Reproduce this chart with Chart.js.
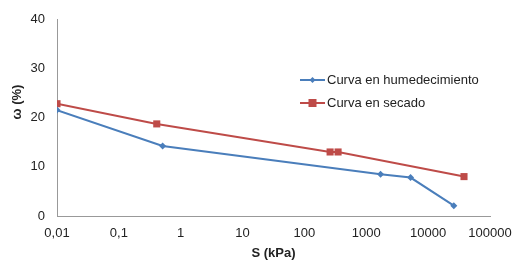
<!DOCTYPE html>
<html lang="en">
<head>
    <meta charset="UTF-8">
    <title>Curva de retención</title>
    <script src="https://cdn.jsdelivr.net/npm/chart.js"></script>
    <style>
        body { margin: 0; background: #fff; }
        #wrap { width: 528px; height: 276px; }
    </style>
</head>
<body>
    <div id="wrap"><canvas id="chart" width="528" height="276"></canvas></div>

    <script>
        // suction (kPa) and water content (%)
        const wetS = [0.01, 0.51, 1700, 5200, 26000]
        const wetW = [21.5, 14.2, 8.5, 7.8, 2.1]
        const dryS = [0.01, 0.41, 260, 350, 38000]
        const dryW = [22.8, 18.7, 13.0, 13.0, 8.0]
        const xTicks = [0.01, 0.1, 1, 10, 100, 1000, 10000, 100000]
        const yTicks = [0, 10, 20, 30, 40]
        const seriesNames = ["Curva en humedecimiento", "Curva en secado"]

        const blue = "#4A7EBB"
        const red = "#BE4B48"
        const font = "Liberation Sans, Arial, sans-serif"

        function pts(xs, ys) {
            return xs.map(function (x, i) { return { x: x, y: ys[i] } })
        }

        // legend sits inside the plot, so it is drawn by hand
        const legendInside = {
            id: "legendInside",
            afterDraw: function (chart) {
                const ctx = chart.ctx
                const rows = [
                    { name: seriesNames[0], color: blue, style: "diamond", y: 80 },
                    { name: seriesNames[1], color: red, style: "square", y: 103 }
                ]
                ctx.save()
                rows.forEach(function (r) {
                    ctx.strokeStyle = r.color
                    ctx.lineWidth = 2
                    ctx.beginPath()
                    ctx.moveTo(300, r.y)
                    ctx.lineTo(325, r.y)
                    ctx.stroke()
                    ctx.fillStyle = r.color
                    if (r.style === "diamond") {
                        ctx.beginPath()
                        ctx.moveTo(312.5, r.y - 3)
                        ctx.lineTo(315.5, r.y)
                        ctx.lineTo(312.5, r.y + 3)
                        ctx.lineTo(309.5, r.y)
                        ctx.closePath()
                        ctx.fill()
                    } else {
                        ctx.fillRect(308.5, r.y - 4, 8, 8)
                    }
                    ctx.fillStyle = "#222"
                    ctx.font = "13px " + font
                    ctx.textBaseline = "middle"
                    ctx.fillText(r.name, 327, r.y)
                })
                // y axis title, rotated
                ctx.translate(17, 102)
                ctx.rotate(-Math.PI / 2)
                ctx.font = "bold 13px " + font
                ctx.textAlign = "center"
                ctx.textBaseline = "middle"
                ctx.fillStyle = "#222"
                ctx.fillText("ω (%)", 0, 0)
                ctx.restore()
            }
        }

        const config = {
            type: "line",
            data: {
                datasets: [{
                    label: seriesNames[0],
                    data: pts(wetS, wetW),
                    borderColor: blue,
                    backgroundColor: blue,
                    borderWidth: 2,
                    pointStyle: "rectRot",
                    pointRadius: 3.5,
                    pointBorderWidth: 0
                }, {
                    label: seriesNames[1],
                    data: pts(dryS, dryW),
                    borderColor: red,
                    backgroundColor: red,
                    borderWidth: 2,
                    pointStyle: "rect",
                    pointRadius: 5,
                    pointBorderWidth: 0
                }]
            },
            options: {
                responsive: false,
                animation: false,
                layout: { padding: { top: 19, right: 38, left: 0, bottom: 0 } },
                plugins: {
                    legend: { display: false },
                    tooltip: { enabled: false }
                },
                scales: {
                    x: {
                        type: "logarithmic",
                        min: xTicks[0],
                        max: xTicks[xTicks.length - 1],
                        grid: { display: false },
                        border: { display: true, color: "#999", width: 1 },
                        afterBuildTicks: function (axis) {
                            axis.ticks = xTicks.map(function (v) { return { value: v } })
                        },
                        afterFit: function (axis) { axis.height = 60 },
                        ticks: {
                            autoSkip: false,
                            maxRotation: 0,
                            padding: 2,
                            color: "#222",
                            font: { family: font, size: 13 },
                            callback: function (v) { return String(v).replace(".", ",") }
                        },
                        title: {
                            display: true,
                            text: "S (kPa)",
                            color: "#222",
                            font: { family: font, size: 13, weight: "bold" },
                            padding: { top: 2, bottom: 15 }
                        }
                    },
                    y: {
                        min: yTicks[0],
                        max: yTicks[yTicks.length - 1],
                        grid: { display: false },
                        border: { display: true, color: "#999", width: 1 },
                        afterBuildTicks: function (axis) {
                            axis.ticks = yTicks.map(function (v) { return { value: v } })
                        },
                        afterFit: function (axis) { axis.width = 57 },
                        ticks: {
                            padding: 4,
                            color: "#222",
                            font: { family: font, size: 13 }
                        }
                    }
                }
            },
            plugins: [legendInside]
        }

        const myChart = new Chart(document.getElementById("chart"), config)
    </script>
</body>
</html>
